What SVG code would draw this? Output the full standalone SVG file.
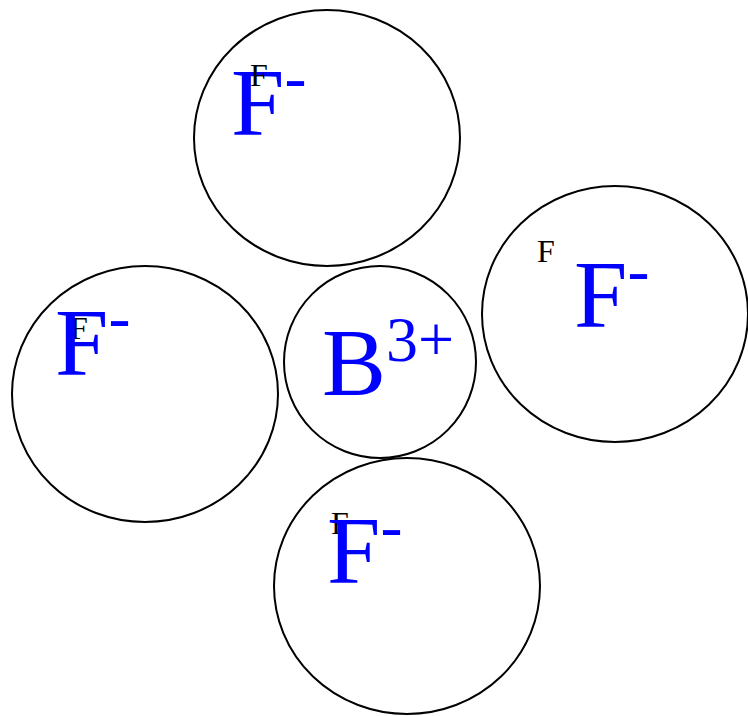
<svg xmlns="http://www.w3.org/2000/svg" width="748" height="716" viewBox="0 0 748 716">
<style>
.ion{fill:#fff;stroke:#000;stroke-width:2}
.big{font-family:"Liberation Serif",serif;font-size:96px;fill:#0000ff}
.sup{font-size:66px}
.bsup{font-size:64px}
.lbl{font-family:"Liberation Serif",serif;font-size:32px;fill:#000}
</style>
<rect width="748" height="716" fill="#fff"/>
<g id="connectors"></g>
<g id="F-top">
<ellipse class="ion" cx="327" cy="138" rx="133" ry="128"/>
<text class="big" x="231" y="135">F<tspan class="sup" dy="-36">-</tspan></text>
<text class="lbl" x="250" y="86">F</text>
</g>
<g id="F-right">
<ellipse class="ion" cx="615" cy="314" rx="133" ry="128"/>
<text class="big" x="574" y="327">F<tspan class="sup" dy="-35">-</tspan></text>
<text class="lbl" x="537" y="262">F</text>
</g>
<g id="F-left">
<ellipse class="ion" cx="145" cy="394" rx="133" ry="128"/>
<text class="lbl" x="70" y="339">F</text>
<text class="big" x="55" y="375">F<tspan class="sup" dy="-36">-</tspan></text>
</g>
<g id="F-bottom">
<ellipse class="ion" cx="407" cy="586" rx="133" ry="128"/>
<text class="lbl" x="331" y="534">F</text>
<text class="big" x="327" y="583">F<tspan class="sup" dy="-35">-</tspan></text>
</g>
<g id="B-center">
<circle class="ion" cx="380" cy="362" r="96"/>
<text class="big" x="322" y="395">B<tspan class="bsup" dy="-34">3+</tspan></text>
</g>
</svg>
